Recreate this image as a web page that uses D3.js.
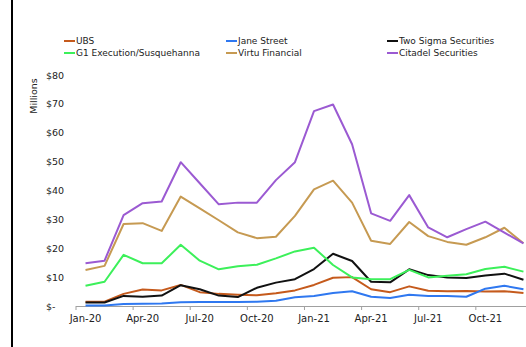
<!DOCTYPE html>
<html>
<head>
<meta charset="utf-8">
<script src="https://cdn.jsdelivr.net/npm/d3@7"></script>
<style>
  body { margin: 0; background: #fff; }
  svg { display: block; font-family: "DejaVu Sans", Verdana, sans-serif; }
</style>
</head>
<body>
<div id="container"></div>
<script>
// monthly values, $ millions
const months = ["Jan-20","Feb-20","Mar-20","Apr-20","May-20","Jun-20","Jul-20","Aug-20","Sep-20","Oct-20","Nov-20","Dec-20",
                "Jan-21","Feb-21","Mar-21","Apr-21","May-21","Jun-21","Jul-21","Aug-21","Sep-21","Oct-21","Nov-21","Dec-21"];
const xTickLabels = ["Jan-20","Apr-20","Jul-20","Oct-20","Jan-21","Apr-21","Jul-21","Oct-21"];
const yTicks = [0,10,20,30,40,50,60,70,80];

const ubs      = [1.5,1.5,4.2,5.7,5.4,7.3,4.8,4.2,3.9,3.7,4.4,5.4,7.3,9.8,10.0,5.8,4.8,6.8,5.3,5.1,5.2,5.0,5.1,4.5];
const jane     = [0.2,0.2,0.7,0.8,0.9,1.3,1.4,1.4,1.4,1.5,1.8,3.0,3.5,4.5,5.1,3.2,2.8,3.9,3.5,3.5,3.2,6.0,7.0,5.8];
const twoSigma = [1.2,1.2,3.5,3.2,3.6,7.2,5.8,3.6,3.1,6.3,8.1,9.3,12.8,18.1,15.6,8.4,8.2,12.7,10.7,9.9,9.7,10.6,11.2,9.1];
const g1       = [7.0,8.4,17.7,14.8,14.8,21.2,15.7,12.7,13.8,14.3,16.5,18.9,20.2,14.2,9.9,9.3,9.3,12.5,9.9,10.5,11.0,12.8,13.6,11.9];
const virtu    = [12.5,13.9,28.4,28.7,26.0,37.9,33.8,29.7,25.5,23.5,24.0,31.2,40.4,43.4,35.8,22.6,21.5,29.1,24.2,22.2,21.2,23.8,27.1,21.7];
const citadel  = [14.8,15.7,31.5,35.6,36.2,49.8,42.5,35.2,35.8,35.8,43.6,49.8,67.5,69.8,56.0,32.1,29.5,38.4,27.2,23.8,26.6,29.2,25.4,21.7];

const seriesNames = ["UBS","Jane Street","Two Sigma Securities","G1 Execution/Susquehanna","Virtu Financial","Citadel Securities"];
const seriesValues = [ubs, jane, twoSigma, g1, virtu, citadel];
const colors = ["#c55a1c","#2f78f0","#111111","#3cf05a","#c69a52","#9b5ad2"];

const w = 526, h = 347;

const svg = d3.select("#container").append("svg")
  .attr("width", w).attr("height", h);

// left frame line
svg.append("line")
  .attr("x1", 12).attr("x2", 12).attr("y1", 0).attr("y2", h)
  .attr("stroke", "#000").attr("stroke-width", 2);

const xScale = d3.scaleBand().domain(months).range([76, 76 + 24*19.04]).paddingInner(0).paddingOuter(0);
const bw = xScale.bandwidth();
const yScale = d3.scaleLinear().domain([0, 80]).range([306, 75]);

// x axis
const xAxis = d3.axisBottom(xScale).tickValues(xTickLabels).tickSizeOuter(0).tickSize(4);
const gx = svg.append("g")
  .attr("transform", "translate(0," + yScale(0) + ")")
  .call(xAxis);
gx.select(".domain").attr("stroke", "#a0a0a0").attr("d", "M76,0.5H" + w);
gx.selectAll(".tick line").attr("stroke", "#a0a0a0").attr("x1", -bw/2).attr("x2", -bw/2);
gx.selectAll(".tick text")
  .attr("y", 9).attr("font-size", 10).attr("fill", "#222")
  .style("font-family", "DejaVu Sans");

// y axis labels (left aligned, accounting style)
const yAxis = d3.axisLeft(yScale).tickValues(yTicks).tickSize(0)
  .tickFormat(d => d === 0 ? "$-" : "$" + d);
const gy = svg.append("g").attr("transform", "translate(46,0)").call(yAxis);
gy.select(".domain").remove();
gy.selectAll(".tick text")
  .attr("text-anchor", "start").attr("x", 0)
  .attr("font-size", 9.5).attr("fill", "#222")
  .style("font-family", "DejaVu Sans");

svg.append("text")
  .attr("transform", "translate(37,96) rotate(-90)")
  .attr("text-anchor", "middle")
  .attr("font-size", 9.5).attr("fill", "#222")
  .text("Millions");

// lines
const line = d3.line()
  .x((d, i) => xScale(months[i]) + bw/2)
  .y(d => yScale(d));

svg.selectAll("path.series")
  .data(seriesValues)
  .enter()
  .append("path")
  .attr("class", "series")
  .attr("d", d => line(d))
  .attr("fill", "none")
  .attr("stroke", (d, i) => colors[i])
  .attr("stroke-width", 2)
  .attr("stroke-linejoin", "round");

// legend: 3 columns x 2 rows
const legendX = [64, 226, 387];
const legendY = [41, 53];
const leg = svg.selectAll("g.leg")
  .data(seriesNames)
  .enter()
  .append("g")
  .attr("class", "leg")
  .attr("transform", (d, i) => "translate(" + legendX[i % 3] + "," + legendY[Math.floor(i / 3)] + ")");
leg.append("line")
  .attr("x1", 0).attr("x2", 11).attr("y1", 0).attr("y2", 0)
  .attr("stroke", (d, i) => colors[i]).attr("stroke-width", 2);
leg.append("text")
  .attr("x", 12).attr("dy", "0.35em")
  .attr("font-size", 9).attr("fill", "#222")
  .text(d => d);
</script>
</body>
</html>
